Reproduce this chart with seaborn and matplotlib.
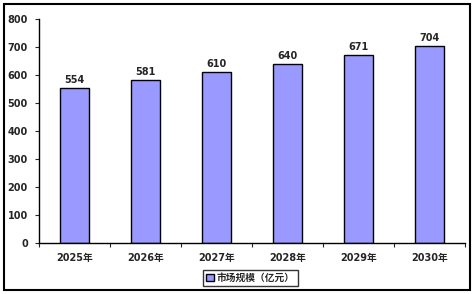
import matplotlib
matplotlib.use('Agg')
import matplotlib.pyplot as plt
import seaborn as sns
from matplotlib.patches import Rectangle
from matplotlib.ticker import FixedLocator

years = ['2025年', '2026年', '2027年', '2028年', '2029年', '2030年']
market_size = [554, 581, 610, 640, 671, 704]
series_label = '市场规模（亿元）'

sns.set_style('white')
plt.rcParams['font.family'] = ['DejaVu Sans', 'Noto Sans CJK SC']
plt.rcParams['font.weight'] = 'bold'

fig = plt.figure(figsize=(4.75, 2.94), dpi=100)
ax = fig.add_axes([0.082, 0.1735, 0.897, 0.7615])

sns.barplot(x=years, y=market_size, color='#9999FF', edgecolor='black',
            linewidth=1, width=0.41, saturation=1, ax=ax, label=series_label)

for i, v in enumerate(market_size):
    ax.text(i, v + 12, str(v), ha='center', va='bottom', fontsize=7, fontweight='bold')

ax.set_xlim(-0.5, len(years) - 0.5)
ax.set_ylim(0, 800)
ax.set_yticks(range(0, 801, 100))
ax.xaxis.set_minor_locator(FixedLocator([i - 0.5 for i in range(len(years) + 1)]))
ax.tick_params(axis='x', which='major', length=0, pad=7, labelsize=7)
ax.tick_params(axis='x', which='minor', length=3, width=0.8, direction='out', bottom=True)
ax.tick_params(axis='y', length=3, width=0.8, direction='out', left=True, labelsize=7, pad=5)
for lbl in ax.get_xticklabels() + ax.get_yticklabels():
    lbl.set_fontweight('bold')
ax.set_xlabel('')
ax.set_ylabel('')

for s in ['top', 'right']:
    ax.spines[s].set_visible(False)
for s in ['left', 'bottom']:
    ax.spines[s].set_color('black')
    ax.spines[s].set_linewidth(1)

leg = ax.legend(loc='center', bbox_to_anchor=(0.527, 0.054), bbox_transform=fig.transFigure,
                fontsize=7, frameon=True, fancybox=False, handlelength=0.8, handleheight=0.8,
                handletextpad=0.3, borderpad=0.3, borderaxespad=0)
leg.get_frame().set_edgecolor('black')
leg.get_frame().set_linewidth(1)
for t in leg.get_texts():
    t.set_fontweight('bold')

fig.patches.append(Rectangle((4 / 475, 4 / 294), 466 / 475, 286 / 294, transform=fig.transFigure,
                             fill=False, edgecolor='black', linewidth=1.5))

fig.savefig('out.png', dpi=100)
